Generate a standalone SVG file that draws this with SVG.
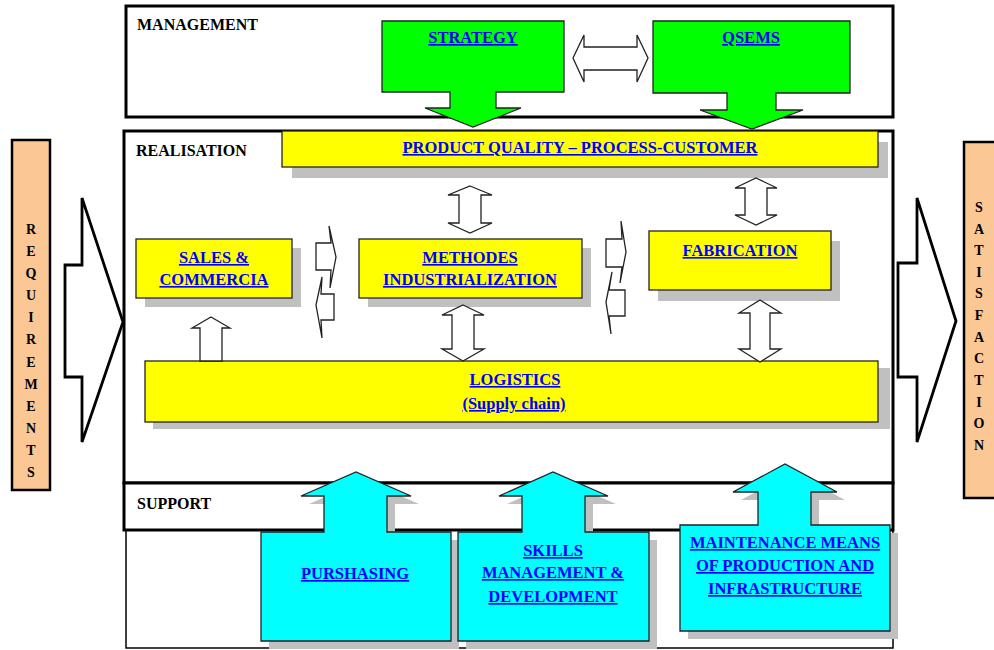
<svg xmlns="http://www.w3.org/2000/svg" width="994" height="650" viewBox="0 0 994 650">
<style>
.frame{fill:#fff;stroke:#000;stroke-width:3}
.thin{fill:#fff;stroke:#000;stroke-width:1.5}
.head{font-family:"Liberation Serif","Times New Roman",serif;font-weight:bold;font-size:16px;fill:#000}
.lbl{font-family:"Liberation Serif","Times New Roman",serif;font-weight:bold;font-size:16.5px;fill:#0000FF;text-decoration:underline;text-anchor:middle}
.vert{font-family:"Liberation Serif","Times New Roman",serif;font-weight:bold;font-size:14px;fill:#000;text-anchor:middle}
.yel{fill:#FFFF00;stroke:#222;stroke-width:1.3}
.grn{fill:#00FF00;stroke:#222;stroke-width:1.3}
.cyn{fill:#00FFFF;stroke:#222;stroke-width:1.3}
.shd{fill:#C0C0C0;stroke:none}
.peach{fill:#FAC795;stroke:#000;stroke-width:2.5}
.dbl{fill:#fff;stroke:#222;stroke-width:1.3;stroke-linejoin:miter}
.big{fill:#fff;stroke:#000;stroke-width:2.8;stroke-linejoin:miter}
</style>

<!-- frames -->
<g id="management">
<rect class="frame" x="126" y="6" width="767" height="111"/>
<text class="head" x="137" y="30">MANAGEMENT</text>
</g>
<g id="realisation">
<rect class="frame" x="124" y="131" width="769" height="352"/>
<text class="head" x="136" y="156">REALISATION</text>
</g>
<g id="lower-frame">
<rect class="thin" x="126" y="530" width="767" height="118"/>
</g>
<g id="support">
<rect class="frame" x="124" y="483" width="769" height="47"/>
<text class="head" x="137" y="509">SUPPORT</text>
</g>

<!-- side boxes -->
<g id="requirements">
<rect class="peach" x="12" y="140" width="38" height="350"/>
<text class="vert" x="31" y="234">R</text>
<text class="vert" x="31" y="256">E</text>
<text class="vert" x="31" y="278">Q</text>
<text class="vert" x="31" y="300">U</text>
<text class="vert" x="31" y="322">I</text>
<text class="vert" x="31" y="344">R</text>
<text class="vert" x="31" y="367">E</text>
<text class="vert" x="31" y="389">M</text>
<text class="vert" x="31" y="411">E</text>
<text class="vert" x="31" y="433">N</text>
<text class="vert" x="31" y="455">T</text>
<text class="vert" x="31" y="477">S</text>
</g>
<g id="satisfaction">
<rect class="peach" x="964" y="142" width="36" height="356"/>
<text class="vert" x="979" y="212">S</text>
<text class="vert" x="979" y="234">A</text>
<text class="vert" x="979" y="255">T</text>
<text class="vert" x="979" y="277">I</text>
<text class="vert" x="979" y="298">S</text>
<text class="vert" x="979" y="320">F</text>
<text class="vert" x="979" y="342">A</text>
<text class="vert" x="979" y="363">C</text>
<text class="vert" x="979" y="385">T</text>
<text class="vert" x="979" y="407">I</text>
<text class="vert" x="979" y="428">O</text>
<text class="vert" x="979" y="450">N</text>
</g>

<!-- realisation nodes -->
<g id="product-quality">
<rect class="shd" x="292" y="142" width="596" height="36"/>
<rect class="yel" x="282" y="131" width="596" height="36"/>
<text class="lbl" x="580" y="153">PRODUCT QUALITY – PROCESS-CUSTOMER</text>
</g>
<g id="sales">
<rect class="shd" x="145" y="248" width="156" height="59"/>
<rect class="yel" x="136" y="239" width="156" height="59"/>
<text class="lbl" x="214" y="263">SALES &amp;</text>
<text class="lbl" x="214" y="285">COMMERCIA</text>
</g>
<g id="methodes">
<rect class="shd" x="368" y="248" width="223" height="59"/>
<rect class="yel" x="359" y="239" width="223" height="59"/>
<text class="lbl" x="470" y="263">METHODES</text>
<text class="lbl" x="470" y="285">INDUSTRIALIZATION</text>
</g>
<g id="fabrication">
<rect class="shd" x="658" y="241" width="182" height="60"/>
<rect class="yel" x="649" y="231" width="182" height="59"/>
<text class="lbl" x="740" y="256">FABRICATION</text>
</g>
<g id="logistics">
<rect class="shd" x="153" y="368" width="737" height="61"/>
<rect class="yel" x="145" y="361" width="733" height="61"/>
<text class="lbl" x="515" y="385">LOGISTICS</text>
<text class="lbl" x="514" y="409">(Supply chain)</text>
</g>

<!-- management nodes -->
<g id="strategy">
<polygon class="grn" points="382,21 564,21 564,92 496,92 496,108 521,108 473,127 425,108 450,108 450,92 382,92"/>
<text class="lbl" x="473" y="43">STRATEGY</text>
</g>
<g id="qsems">
<polygon class="grn" points="653,21 850,21 850,93 776,93 776,110 803,110 752,129 700,110 727,110 727,93 653,93"/>
<text class="lbl" x="751" y="43">QSEMS</text>
</g>

<!-- support nodes -->
<g id="pursharing">
<polygon class="shd" points="269,540 332,540 332,504 309,504 364,480 419,504 395,504 395,540 459,540 459,649 269,649"/>
<polygon class="cyn" points="261,532 324,532 324,496 301,496 356,472 411,496 387,496 387,532 451,532 451,641 261,641"/>
<text class="lbl" x="355" y="579">PURSHASING</text>
</g>
<g id="skills">
<polygon class="shd" points="466,540 530,540 530,504 507,504 561,480 616,504 593,504 593,540 657,540 657,649 466,649"/>
<polygon class="cyn" points="458,532 522,532 522,496 499,496 553,472 608,496 585,496 585,532 649,532 649,641 458,641"/>
<text class="lbl" x="553" y="556">SKILLS</text>
<text class="lbl" x="553" y="578">MANAGEMENT &amp;</text>
<text class="lbl" x="553" y="602">DEVELOPMENT</text>
</g>
<g id="maintenance">
<polygon class="shd" points="688,533 766,533 766,500 741,500 793,472 845,500 819,500 819,533 898,533 898,639 688,639"/>
<polygon class="cyn" points="680,525 758,525 758,492 733,492 785,464 837,492 811,492 811,525 890,525 890,631 680,631"/>
<text class="lbl" x="785" y="548">MAINTENANCE MEANS</text>
<text class="lbl" x="785" y="571">OF PRODUCTION AND</text>
<text class="lbl" x="785" y="594">INFRASTRUCTURE</text>
</g>

<!-- connectors -->
<g id="connectors">
<!-- strategy <-> qsems -->
<polygon class="dbl" points="573,58 584,35 584,47 637,47 637,35 648,58 637,82 637,70 584,70 584,82"/>
<!-- PQ <-> methodes -->
<polygon class="dbl" points="470,186 492,195 481,195 481,223 492,223 470,233 448,223 459,223 459,195 448,195"/>
<!-- PQ <-> fabrication -->
<polygon class="dbl" points="756,178 777,188 767,188 767,215 777,215 756,225 735,215 745,215 745,188 735,188"/>
<!-- methodes <-> logistics -->
<polygon class="dbl" points="463,305 484,315 474,315 474,349 484,349 463,361 442,349 452,349 452,315 442,315"/>
<!-- fabrication <-> logistics -->
<polygon class="dbl" points="760,300 781,313 770,313 770,349 781,349 760,362 739,349 750,349 750,313 739,313"/>
<!-- logistics -> sales -->
<polygon class="dbl" points="211,317 230,328 222,328 222,361 200,361 200,328 192,328"/>
<!-- sales <-> methodes -->
<polygon class="dbl" points="316,243 331,243 329,226 336,257 330,288 331,270 316,270"/>
<polygon class="dbl" points="334,294 321,294 322,277 316,305 322,338 321,320 334,320"/>
<!-- methodes <-> fabrication -->
<polygon class="dbl" points="606,239 622,239 621,221 626,252 620,283 622,267 606,267"/>
<polygon class="dbl" points="625,290 609,290 612,272 606,302 611,334 609,316 625,316"/>
<!-- requirements -> realisation -->
<polygon class="big" points="65,265 82,265 82,198 123,322 82,442 82,377 65,377"/>
<!-- realisation -> satisfaction -->
<polygon class="big" points="898,263 917,263 917,198 956,321 917,442 917,377 898,377"/>
</g>
</svg>
